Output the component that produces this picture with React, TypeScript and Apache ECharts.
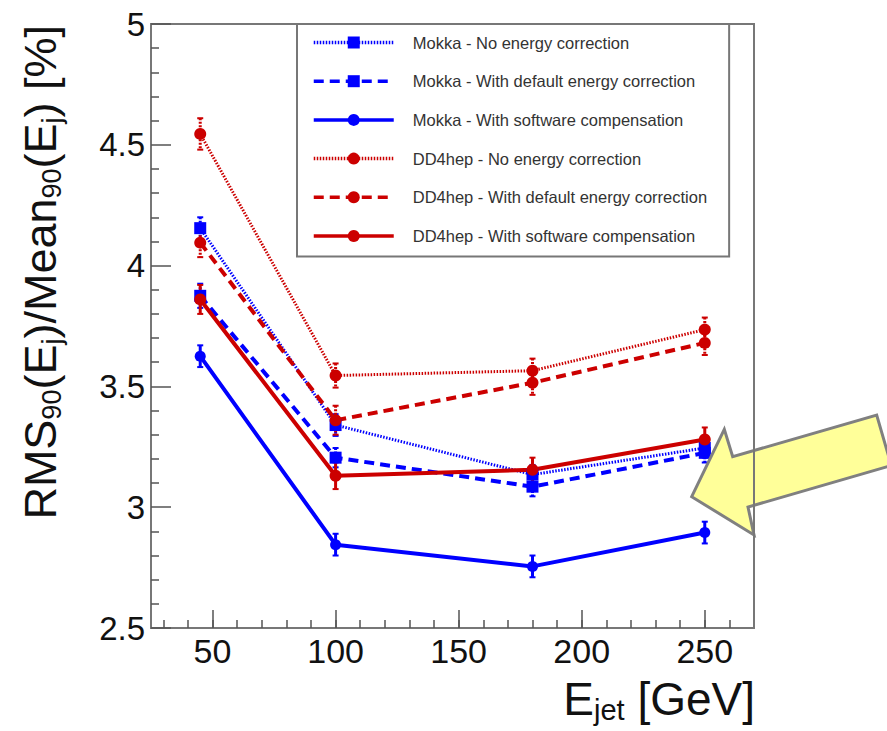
import React, { useEffect, useRef } from 'react';
import * as echarts from 'echarts';

const energies = [45, 100, 180, 250];
const seriesNames = [
  'Mokka - No energy correction',
  'Mokka - With default energy correction',
  'Mokka - With software compensation',
  'DD4hep - No energy correction',
  'DD4hep - With default energy correction',
  'DD4hep - With software compensation',
];
const mokkaNoCorr = [4.155, 3.34, 3.135, 3.245];
const mokkaDefault = [3.875, 3.205, 3.085, 3.225];
const mokkaSC = [3.625, 2.845, 2.755, 2.895];
const dd4NoCorr = [4.545, 3.545, 3.565, 3.735];
const dd4Default = [4.095, 3.36, 3.515, 3.68];
const dd4SC = [3.86, 3.13, 3.155, 3.28];
const errMokkaNoCorr = [0.045, 0.045, 0.04, 0.04];
const errMokkaDefault = [0.05, 0.04, 0.04, 0.04];
const errMokkaSC = [0.045, 0.045, 0.045, 0.045];
const errDd4NoCorr = [0.065, 0.05, 0.05, 0.05];
const errDd4Default = [0.06, 0.06, 0.05, 0.05];
const errDd4SC = [0.06, 0.055, 0.05, 0.05];
const yTicks = [2.5, 3, 3.5, 4, 4.5, 5];
const xTickLabels = [50, 100, 150, 200, 250];

const FONT = '"Liberation Sans", Arial, Helvetica, sans-serif';
const BLUE = '#0000ff';
const RED = '#cc0000';
const DOTTED = [1.5, 1.5];
const DASHED = [10, 6];

const defs = [
  { name: seriesNames[0], values: mokkaNoCorr, errs: errMokkaNoCorr, color: BLUE, dash: DOTTED, width: 3, symbol: 'rect', size: 12 },
  { name: seriesNames[1], values: mokkaDefault, errs: errMokkaDefault, color: BLUE, dash: DASHED, width: 4, symbol: 'rect', size: 12 },
  { name: seriesNames[2], values: mokkaSC, errs: errMokkaSC, color: BLUE, dash: null, width: 4, symbol: 'circle', size: 11 },
  { name: seriesNames[3], values: dd4NoCorr, errs: errDd4NoCorr, color: RED, dash: DOTTED, width: 3, symbol: 'circle', size: 12 },
  { name: seriesNames[4], values: dd4Default, errs: errDd4Default, color: RED, dash: DASHED, width: 4, symbol: 'circle', size: 12 },
  { name: seriesNames[5], values: dd4SC, errs: errDd4SC, color: RED, dash: null, width: 4, symbol: 'circle', size: 12 },
];

export default function App() {
  const ref = useRef<HTMLDivElement>(null);
  useEffect(() => {
    if (!ref.current) return;
    const chart = echarts.init(ref.current, null, { renderer: 'svg' });

    const lineSeries = defs.map((d) => ({
      type: 'line',
      name: d.name,
      data: energies.map((e, i) => [e, d.values[i]]),
      symbol: d.symbol,
      symbolSize: d.size,
      showAllSymbol: true,
      lineStyle: { color: d.color, width: d.width, type: d.dash ? d.dash : 'solid' },
      itemStyle: { color: d.color },
      z: 4,
    }));

    const errSeries = defs.map((d) => ({
      type: 'custom',
      data: energies.map((e, i) => [e, d.values[i] - d.errs[i], d.values[i] + d.errs[i]]),
      encode: { x: 0, y: [1, 2] },
      z: 3,
      silent: true,
      renderItem: (params: any, api: any) => {
        const x = api.value(0);
        const p1 = api.coord([x, api.value(2)]);
        const p2 = api.coord([x, api.value(1)]);
        const st = { stroke: d.color, lineWidth: 3, lineDash: d.dash ? [2, 1.5] : null };
        return {
          type: 'group',
          children: [
            { type: 'line', shape: { x1: p1[0], y1: p1[1], x2: p2[0], y2: p2[1] }, style: st },
            { type: 'line', shape: { x1: p1[0] - 3, y1: p1[1], x2: p1[0] + 3, y2: p1[1] }, style: { stroke: d.color, lineWidth: 2 } },
            { type: 'line', shape: { x1: p2[0] - 3, y1: p2[1], x2: p2[0] + 3, y2: p2[1] }, style: { stroke: d.color, lineWidth: 2 } },
          ],
        };
      },
    }));

    const option: any = {
      animation: false,
      backgroundColor: '#ffffff',
      grid: [
        { left: 151, top: 24, width: 603, height: 604, show: true, borderColor: '#777', borderWidth: 2, backgroundColor: 'transparent' },
        { left: 151 + (5 * 603) / 245, top: 24, width: 603 - (5 * 603) / 245, height: 604, show: false },
      ],
      xAxis: [
        {
          gridIndex: 0,
          type: 'value',
          min: 25,
          max: 270,
          axisLine: { show: true, onZero: false, lineStyle: { color: '#777', width: 2 } },
          axisTick: { show: true, inside: true, length: 18, lineStyle: { color: '#555', width: 1.5 } },
          axisLabel: {
            show: true,
            fontSize: 34,
            fontFamily: FONT,
            color: '#111',
            margin: 6,
            showMinLabel: false,
            showMaxLabel: false,
            formatter: (v: number) => (xTickLabels.indexOf(v) >= 0 ? String(v) : ''),
          },
          splitLine: { show: false },
        },
        {
          gridIndex: 1,
          type: 'value',
          min: 30,
          max: 270,
          interval: 10,
          axisLine: { show: false, onZero: false },
          axisTick: { show: true, inside: true, length: 8, lineStyle: { color: '#555', width: 1.5 } },
          axisLabel: { show: false },
          splitLine: { show: false },
        },
      ],
      yAxis: [
        {
          gridIndex: 0,
          type: 'value',
          min: yTicks[0],
          max: yTicks[yTicks.length - 1],
          interval: 0.5,
          axisLine: { show: true, onZero: false, lineStyle: { color: '#777', width: 2 } },
          axisTick: { show: true, inside: true, length: 20, lineStyle: { color: '#555', width: 1.5 } },
          minorTick: { show: true, splitNumber: 5, length: 8, lineStyle: { color: '#555', width: 1.5 } },
          axisLabel: { fontSize: 33, fontFamily: FONT, color: '#111', margin: 6 },
          splitLine: { show: false },
        },
        { gridIndex: 1, type: 'value', min: 0, max: 1, show: false },
      ],
      legend: {
        orient: 'vertical',
        left: 297,
        top: 24,
        backgroundColor: '#ffffff',
        borderColor: '#777',
        borderWidth: 2,
        borderRadius: 0,
        padding: [10, 22, 12, 15],
        itemWidth: 80,
        itemHeight: 15,
        itemGap: 21.7,
        data: seriesNames,
        lineStyle: { width: 3.5 },
        textStyle: { fontSize: 16.5, fontFamily: FONT, color: '#333', lineHeight: 15, padding: [0, 0, 0, 14] },
        z: 10,
      },
      graphic: [
        {
          type: 'polygon',
          z: 100,
          shape: {
            points: [
              [691.7, 496.7],
              [724.3, 429.3],
              [732.7, 456.7],
              [876.7, 415],
              [891.3, 465.5],
              [748, 507],
              [754, 535],
            ],
          },
          style: { fill: '#ffff99', stroke: '#808080', lineWidth: 3, lineJoin: 'miter' },
        },
        {
          type: 'line',
          z: 101,
          shape: { x1: 754, y1: 24, x2: 754, y2: 628 },
          style: { stroke: '#777', lineWidth: 2 },
        },
        {
          type: 'text',
          z: 101,
          x: 40,
          y: 25,
          rotation: Math.PI / 2,
          style: {
            text: 'RMS{s|90}(E{s|j})/Mean{s|90}(E{s|j}) [%]',
            fontSize: 45,
            fontFamily: FONT,
            fill: '#111',
            align: 'right',
            verticalAlign: 'middle',
            lineHeight: 50,
            rich: { s: { fontSize: 27, fontFamily: FONT, fill: '#111', lineHeight: 8, verticalAlign: 'bottom' } },
          },
        },
        {
          type: 'text',
          z: 101,
          x: 755,
          y: 699,
          style: {
            text: 'E{s|jet} [GeV]',
            fontSize: 46,
            fontFamily: FONT,
            fill: '#111',
            align: 'right',
            verticalAlign: 'middle',
            lineHeight: 50,
            rich: { s: { fontSize: 29, fontFamily: FONT, fill: '#111', lineHeight: 10, verticalAlign: 'bottom' } },
          },
        },
      ],
      series: [...errSeries, ...lineSeries],
    };
    chart.setOption(option);
    return () => chart.dispose();
  }, []);
  return <div ref={ref} style={{ position: 'fixed', left: 0, top: 0, width: 887, height: 731 }} />;
}
